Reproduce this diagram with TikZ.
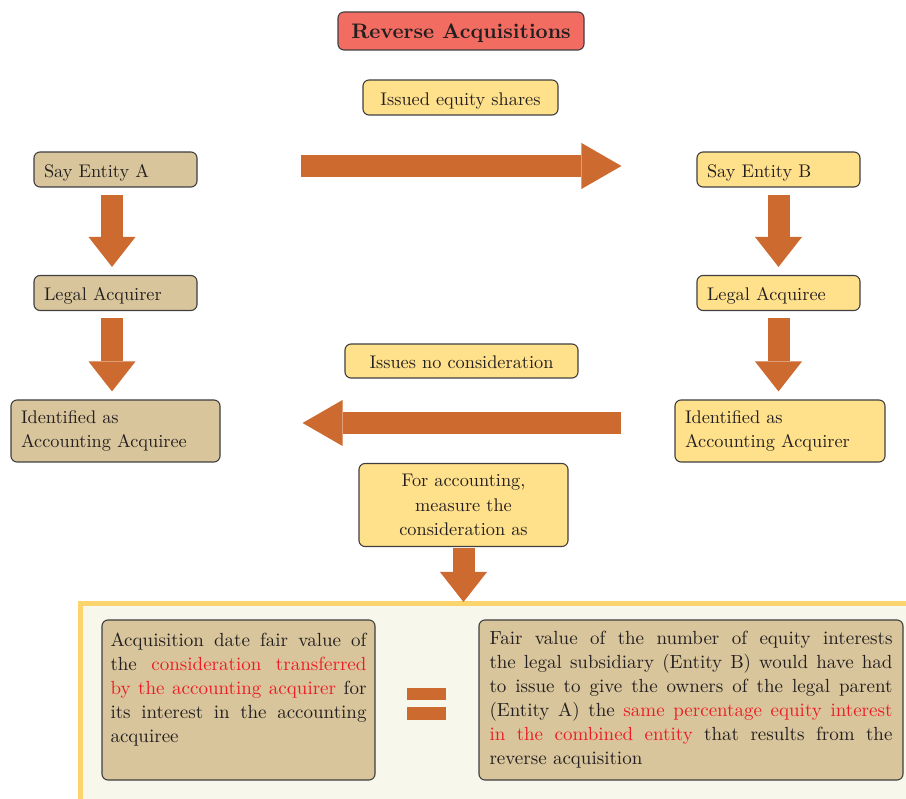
\documentclass[tikz,border=0pt]{standalone}
\usepackage{fontspec}
\setmainfont{lmroman10-regular.otf}[BoldFont=lmroman10-bold.otf]
\usetikzlibrary{arrows.meta}
\definecolor{titlered}{HTML}{F26C62}
\definecolor{boxyellow}{HTML}{FFE08B}
\definecolor{boxtan}{HTML}{D9C59B}
\definecolor{arroworange}{HTML}{CD6A2F}
\definecolor{panelborder}{HTML}{FCD46E}
\definecolor{panelfill}{HTML}{F8F7EC}
\definecolor{hilite}{HTML}{ED1C24}
\definecolor{inkc}{HTML}{231F20}
\definecolor{edgec}{HTML}{3F3F3F}
\newcommand\hl[1]{\textcolor{hilite}{#1}}
\newcommand\jl[2]{\leavevmode\hbox to #1{\spaceskip=.3em plus 1fil\relax #2}}
\tikzset{
  box/.style={draw=edgec, line width=1.1pt, rounded corners=6pt, text=inkc,
    font=\fontsize{18.3}{24.5}\selectfont, inner ysep=0pt},
  ybox/.style={box, fill=boxyellow},
  tbox/.style={box, fill=boxtan},
  oneline/.style={text height=16pt, text depth=0pt},
  bigtext/.style={font=\fontsize{19}{24}\selectfont},
  fatv/.style={draw=arroworange, line width=22pt,
    -{Triangle[width=47pt,length=30pt,line width=0pt]}},
  fath/.style={draw=arroworange, line width=22pt,
    -{Triangle[width=46pt,length=40pt,line width=0pt]}},
}
\begin{document}
\begin{tikzpicture}[x=1pt,y=-1pt]
\useasboundingbox (0,0) rectangle (906,799);
% bottom panel
\fill[panelfill] (80,604) rectangle (906,799);
\draw[panelborder, line width=5pt] (80,799) -- (80,604) -- (906,604);
% title
\node[box, oneline, fill=titlered, minimum width=246pt, minimum height=38pt,
  font=\fontsize{21}{26}\selectfont\bfseries] (title) at (461,31) {Reverse Acquisitions};
\node[ybox, oneline, minimum width=195pt, minimum height=35pt] (issued) at (460.5,97.5) {Issued equity shares};
% left column
\node[tbox, oneline, minimum width=163pt, minimum height=35pt, text width=143pt, inner xsep=10pt, align=left]
  (sayA) at (115.5,169.5) {Say Entity A};
\node[tbox, oneline, minimum width=163pt, minimum height=35pt, text width=143pt, inner xsep=10pt, align=left]
  (legA) at (115.5,293) {Legal Acquirer};
\node[tbox, minimum width=209pt, minimum height=62pt, text width=189pt, inner xsep=10pt, align=left]
  (accA) at (115.5,431) {Identified as\\Accounting Acquiree};
% right column
\node[ybox, oneline, minimum width=163pt, minimum height=35pt, text width=143pt, inner xsep=10pt, align=left]
  (sayB) at (778.5,169.5) {Say Entity B};
\node[ybox, oneline, minimum width=163pt, minimum height=35pt, text width=143pt, inner xsep=10pt, align=left]
  (legB) at (778.5,293) {Legal Acquiree};
\node[ybox, minimum width=210pt, minimum height=62pt, text width=190pt, inner xsep=10pt, align=left]
  (accB) at (780,431) {Identified as\\Accounting Acquirer};
% middle
\node[ybox, oneline, minimum width=233pt, minimum height=34pt] (nocons) at (461.5,361) {Issues no consideration};
\node[ybox, minimum width=209pt, minimum height=83pt, text width=189pt, align=center]
  (forAcc) at (463.5,505) {For accounting,\\measure the\\consideration as};
\coordinate (panelTop) at (463.5,602);
% bottom boxes
\node[tbox, bigtext, minimum width=273pt, minimum height=160pt, text width=256pt, inner xsep=8.5pt, align=left]
  (lhs) at (238.5,700) {\jl{256pt}{Acquisition date fair value of}\\
  \jl{256pt}{the \hl{consideration transferred}}\\
  \jl{256pt}{\hl{by the accounting acquirer} for}\\
  \jl{256pt}{its interest in the accounting}\\
  acquiree\\ \mbox{}};
\node[tbox, bigtext, minimum width=424pt, minimum height=160pt, text width=403pt, inner xsep=10.5pt, align=left]
  (rhs) at (691,700) {\jl{403pt}{Fair value of the number of equity interests}\\
  \jl{403pt}{the legal subsidiary (Entity B) would have had}\\
  \jl{403pt}{to issue to give the owners of the legal parent}\\
  \jl{403pt}{(Entity A) the \hl{same percentage equity interest}}\\
  \jl{403pt}{\hl{in the combined entity} that results from the}\\
  reverse acquisition};
% equals sign
\fill[arroworange] (407,688) rectangle (446,700);
\fill[arroworange] (407,707) rectangle (446,720);
% arrows
\draw[fath, shorten <=103pt, shorten >=75pt] ([yshift=3.5pt]sayA.east) -- ([yshift=3.5pt]sayB.west);
\draw[fath, shorten <=53pt, shorten >=82pt] ([yshift=8pt]accB.west) -- ([yshift=8pt]accA.east);
\draw[fatv, shorten <=7pt, shorten >=8pt] ([xshift=-3.5pt]sayA.south) -- ([xshift=-3.5pt]legA.north);
\draw[fatv, shorten <=7pt, shorten >=8pt] ([xshift=-3.5pt]legA.south) -- ([xshift=-3.5pt]accA.north);
\draw[fatv, shorten <=7pt, shorten >=8pt] (sayB.south) -- (legB.north);
\draw[fatv, shorten <=7pt, shorten >=8pt] (legB.south) -- ([xshift=-1.5pt]accB.north);
\draw[fatv, shorten <=0.5pt] (forAcc.south) -- (panelTop);
\end{tikzpicture}
\end{document}
